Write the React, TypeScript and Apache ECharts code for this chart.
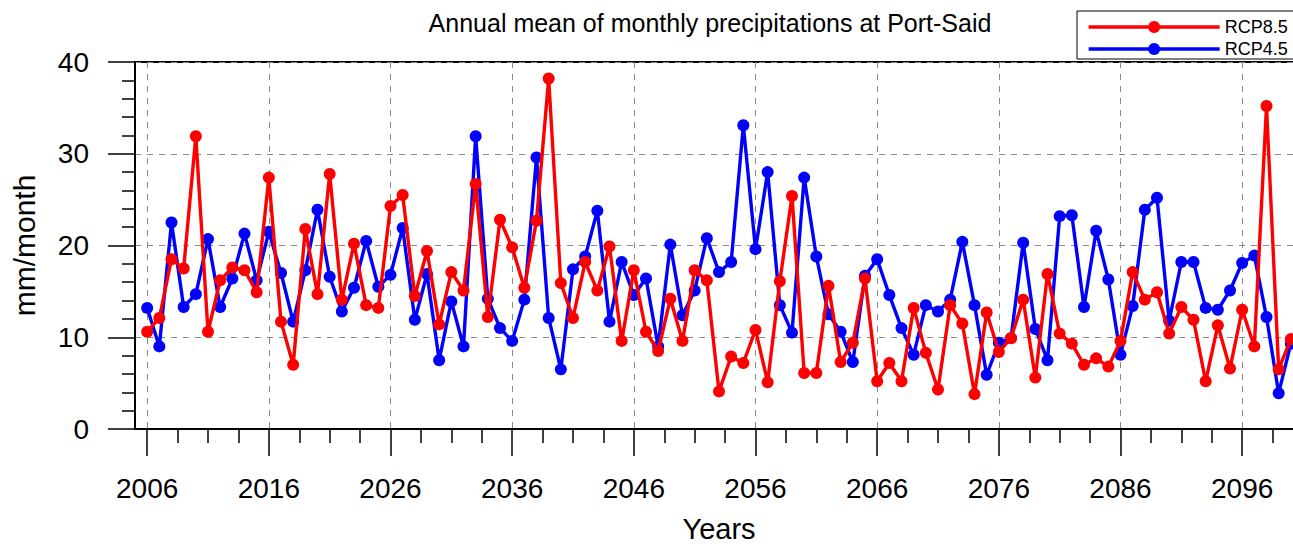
import React, { useEffect, useRef } from "react";
import * as echarts from "echarts";

const TITLE = "Annual mean of monthly precipitations at Port-Said";
const FONT = "'Liberation Sans', Arial, Helvetica, sans-serif";

const YEARS = [
  2006, 2007, 2008, 2009, 2010, 2011, 2012, 2013, 2014, 2015,
  2016, 2017, 2018, 2019, 2020, 2021, 2022, 2023, 2024, 2025,
  2026, 2027, 2028, 2029, 2030, 2031, 2032, 2033, 2034, 2035,
  2036, 2037, 2038, 2039, 2040, 2041, 2042, 2043, 2044, 2045,
  2046, 2047, 2048, 2049, 2050, 2051, 2052, 2053, 2054, 2055,
  2056, 2057, 2058, 2059, 2060, 2061, 2062, 2063, 2064, 2065,
  2066, 2067, 2068, 2069, 2070, 2071, 2072, 2073, 2074, 2075,
  2076, 2077, 2078, 2079, 2080, 2081, 2082, 2083, 2084, 2085,
  2086, 2087, 2088, 2089, 2090, 2091, 2092, 2093, 2094, 2095,
  2096, 2097, 2098, 2099, 2100,
];

const RCP85 = [
  10.6, 12.1, 18.5, 17.5, 31.9, 10.6, 16.2, 17.6, 17.3, 14.9,
  27.4, 11.7, 7.0, 21.8, 14.7, 27.8, 14.1, 20.2, 13.5, 13.2,
  24.3, 25.5, 14.5, 19.4, 11.4, 17.1, 15.1, 26.7, 12.2, 22.8,
  19.8, 15.4, 22.7, 38.2, 15.9, 12.1, 18.2, 15.1, 19.9, 9.6,
  17.3, 10.6, 8.5, 14.2, 9.6, 17.3, 16.2, 4.1, 7.9, 7.2,
  10.8, 5.1, 16.1, 25.4, 6.1, 6.1, 15.6, 7.3, 9.4, 16.4,
  5.2, 7.2, 5.2, 13.2, 8.3, 4.3, 13.5, 11.5, 3.8, 12.7,
  8.4, 9.9, 14.1, 5.6, 16.9, 10.4, 9.3, 7.0, 7.7, 6.8,
  9.6, 17.1, 14.1, 14.9, 10.4, 13.3, 11.9, 5.2, 11.3, 6.6,
  13.0, 9.0, 35.2, 6.5, 9.8,
];

const RCP45 = [
  13.2, 9.0, 22.5, 13.3, 14.7, 20.7, 13.3, 16.4, 21.3, 16.2,
  21.5, 17.0, 11.7, 17.3, 23.9, 16.6, 12.8, 15.4, 20.5, 15.5,
  16.8, 21.9, 11.9, 16.9, 7.5, 13.9, 9.0, 31.9, 14.2, 11.0,
  9.6, 14.1, 29.6, 12.1, 6.5, 17.4, 18.8, 23.8, 11.7, 18.2,
  14.6, 16.4, 9.0, 20.1, 12.4, 15.1, 20.8, 17.1, 18.2, 33.1,
  19.6, 28.0, 13.5, 10.5, 27.4, 18.8, 12.5, 10.6, 7.3, 16.7,
  18.5, 14.6, 11.0, 8.1, 13.5, 12.8, 14.1, 20.4, 13.5, 5.9,
  9.4, 9.9, 20.3, 10.9, 7.5, 23.2, 23.3, 13.3, 21.6, 16.3,
  8.1, 13.4, 23.9, 25.2, 11.8, 18.2, 18.2, 13.2, 13.0, 15.1,
  18.1, 18.9, 12.2, 3.9, 9.3,
];

const X_TICK_YEARS = [2006, 2016, 2026, 2036, 2046, 2056, 2066, 2076, 2086, 2096];
const BASE_YEAR = 2006;
const X_MIN_YEAR = 2005;
const X_MAX_YEAR = 2101;
const Y_TICKS = [0, 10, 20, 30, 40];

export default function App() {
  const ref = useRef<HTMLDivElement>(null);

  useEffect(() => {
    if (!ref.current) return;
    const chart = echarts.init(ref.current, null, { renderer: "svg" });
    const toX = (y: number) => y - BASE_YEAR;
    const tickVals = X_TICK_YEARS.map(toX);

    const dashed = { color: "#8a8a8a", type: [6, 6] as any, width: 1 };
    const black = "#000";

    chart.setOption({
      animation: false,
      backgroundColor: "#fff",
      title: {
        text: TITLE,
        left: 710,
        textAlign: "center",
        top: 10,
        padding: 0,
        textStyle: { fontFamily: FONT, fontSize: 25, fontWeight: "normal", color: black },
      },
      legend: {
        data: ["RCP8.5", "RCP4.5"],
        orient: "vertical",
        left: 1077,
        top: 11,
        padding: [7, 40, 1, 10],
        itemWidth: 131,
        itemHeight: 15,
        itemGap: 4,
        borderColor: black,
        borderWidth: 1,
        backgroundColor: "#fff",
        lineStyle: { width: 3.3 },
        textStyle: { fontFamily: FONT, fontSize: 18, color: black },
      },
      grid: {
        left: 135,
        top: 62,
        right: 17,
        bottom: 115,
        outerBoundsMode: "none",
        containLabel: false,
        show: true,
        borderColor: black,
        borderWidth: 2,
        backgroundColor: "transparent",
      },
      xAxis: {
        type: "value",
        min: toX(X_MIN_YEAR),
        max: toX(X_MAX_YEAR),
        splitNumber: 10,
        minInterval: 10,
        maxInterval: 10,
        name: "Years",
        nameLocation: "middle",
        nameGap: 85,
        nameTextStyle: { fontFamily: FONT, fontSize: 29, lineHeight: 29, color: black },
        axisLine: { show: true, onZero: false, lineStyle: { color: black, width: 2 } },
        axisTick: { show: true, length: 27, customValues: tickVals, lineStyle: { color: black, width: 1.5 } },
        minorTick: { show: true, splitNumber: 4, length: 14, lineStyle: { color: black, width: 1.5 } },
        axisLabel: {
          customValues: tickVals,
          margin: 45,
          fontFamily: FONT,
          fontSize: 28,
          color: black,
          formatter: (v: number) => String(v + BASE_YEAR),
        },
        splitLine: { show: true, lineStyle: dashed },
      },
      yAxis: {
        type: "value",
        min: Y_TICKS[0],
        max: Y_TICKS[Y_TICKS.length - 1],
        interval: 10,
        name: "mm/month",
        nameLocation: "middle",
        nameGap: 96,
        nameTextStyle: { fontFamily: FONT, fontSize: 30, color: black },
        axisLine: { show: true, onZero: false, lineStyle: { color: black, width: 2 } },
        axisTick: { show: true, length: 27, lineStyle: { color: black, width: 1.5 } },
        minorTick: { show: true, splitNumber: 5, length: 13, lineStyle: { color: black, width: 1.5 } },
        axisLabel: { margin: 46, fontFamily: FONT, fontSize: 28, color: black },
        splitLine: { show: true, lineStyle: dashed },
      },
      series: [
        {
          name: "RCP4.5",
          type: "line",
          data: YEARS.map((y, i) => [toX(y), RCP45[i]]),
          symbol: "circle",
          symbolSize: 12,
          color: "#0000ff",
          lineStyle: { color: "#0000ff", width: 3.4 },
          itemStyle: { color: "#0000ff" },
          z: 2,
        },
        {
          name: "RCP8.5",
          type: "line",
          data: YEARS.map((y, i) => [toX(y), RCP85[i]]),
          symbol: "circle",
          symbolSize: 12,
          color: "#ff0000",
          lineStyle: { color: "#ff0000", width: 3.4 },
          itemStyle: { color: "#ff0000" },
          z: 3,
        },
      ],
    });

    return () => chart.dispose();
  }, []);

  return (
    <div
      style={{
        position: "fixed",
        left: 0,
        top: 0,
        width: 1293,
        height: 544,
        overflow: "hidden",
        background: "#fff",
      }}
    >
      <div ref={ref} style={{ width: 1320, height: 544 }} />
    </div>
  );
}
